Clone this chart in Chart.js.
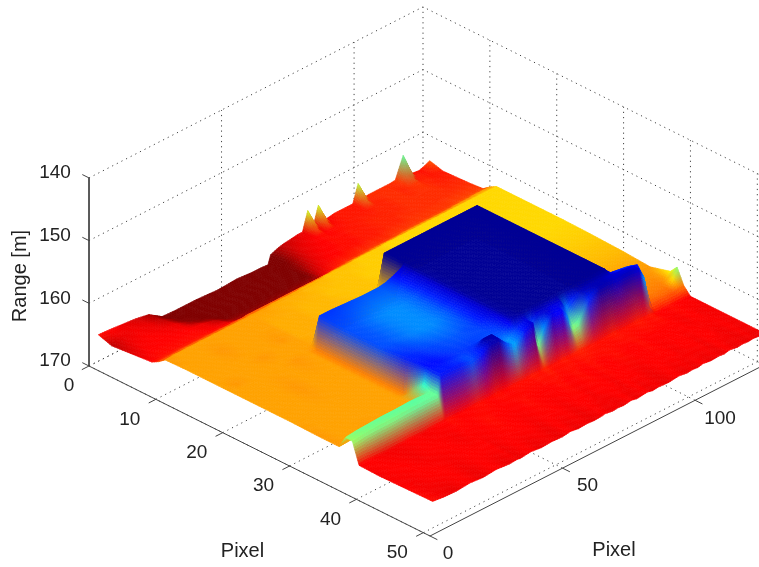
<!DOCTYPE html>
<html>
<head>
<meta charset="utf-8">
<title>Range surface</title>
<script src="https://cdn.jsdelivr.net/npm/chart.js@4/dist/chart.umd.js"></script>
<style>
  html, body { margin: 0; padding: 0; background: #fff; }
  canvas { display: block; filter: blur(0.5px); }
</style>
</head>
<body>
<canvas id="surfaceChart" width="759" height="567"></canvas>
<script>
// grid of the surface, both axes are counted in pixels of the range image
const pixelRows = [1, 3, 5, 7, 9, 10, 11, 14, 17, 18, 20, 21, 25, 30, 34, 37, 38, 39, 40, 43, 47, 51];
const pixelCols = [1, 5, 10, 15, 20, 25, 30, 33,
  34, 38, 42, 46, 50, 53, 56, 59, 62, 65,
  66, 69, 71, 73, 76, 78, 80, 82, 84, 86, 90, 94, 97, 99, 101,
  103, 106, 109, 111,
  113, 116, 118, 120, 122, 124, 126];

// range [m] per row, one value per entry of pixelCols
const range01 = [164.7, 164.8, 165.0, 165.2, 165.6, 167.0, 167.1, 167.1,
  167.1, 167.1, 167.2, 167.3, 167.2, 167.1, 167.2, 167.3, 167.3, 167.4,
  166.0, 165.5, 165.3, 165.2, 165.0, 165.0, 162.0, 165.0, 162.0, 164.9, 164.6, 164.6, 164.6, 161.8, 164.5,
  164.4, 164.4, 164.4, 164.4,
  164.3, 161.0, 164.7, 164.6, 164.7, 164.4, 164.0];
const range03 = [165.4, 165.0, 164.9, 165.0, 165.4, 166.4, 166.7, 166.8,
  166.8, 166.8, 166.9, 166.9, 166.8, 166.8, 166.9, 166.9, 166.8, 166.8,
  166.0, 165.4, 165.1, 165.0, 164.9, 164.8, 164.7, 164.8, 164.7, 164.7, 164.6, 164.6, 164.6, 164.5, 164.5,
  164.5, 164.4, 164.4, 164.5,
  164.4, 164.3, 164.5, 164.5, 164.6, 164.6, 164.6];
const range05 = [165.2, 164.9, 164.8, 164.9, 165.0, 165.8, 166.4, 166.6,
  166.6, 166.6, 166.7, 166.7, 166.6, 166.6, 166.6, 166.6, 166.5, 166.4,
  165.8, 165.2, 165.0, 164.9, 164.8, 164.8, 164.7, 164.7, 164.7, 164.6, 164.6, 164.5, 164.5, 164.5, 164.5,
  164.5, 164.4, 164.4, 164.4,
  164.4, 164.4, 164.4, 164.5, 164.5, 164.5, 164.5];
const range07 = [165.0, 164.8, 164.8, 164.8, 164.8, 165.0, 165.5, 166.0,
  166.2, 166.2, 166.3, 166.3, 166.2, 166.2, 166.3, 166.2, 166.1, 166.0,
  165.4, 165.0, 164.9, 164.8, 164.8, 164.7, 164.7, 164.7, 164.7, 164.6, 164.6, 164.5, 164.5, 164.5, 164.4,
  164.4, 164.4, 164.4, 164.4,
  164.4, 164.4, 164.4, 164.4, 164.4, 164.4, 164.4];
const range09 = [164.8, 164.7, 164.7, 164.7, 164.7, 164.8, 164.9, 165.2,
  165.4, 165.5, 165.6, 165.6, 165.6, 165.6, 165.6, 165.6, 165.6, 165.4,
  165.0, 164.7, 164.6, 164.5, 164.5, 164.5, 164.4, 164.4, 164.4, 164.4, 164.4, 164.3, 164.3, 164.3, 164.3,
  164.3, 164.3, 164.3, 164.3,
  164.3, 164.2, 164.2, 164.2, 164.2, 164.2, 164.2];
const range10 = [164.2, 164.2, 164.1, 164.1, 164.1, 164.1, 164.1, 164.1,
  164.0, 164.0, 164.0, 164.0, 164.0, 164.0, 164.0, 164.0, 164.0, 164.0,
  163.9, 163.9, 163.9, 163.8, 163.8, 163.8, 163.8, 163.7, 163.7, 163.7, 163.7, 163.6, 163.6, 163.6, 163.6,
  163.6, 163.6, 163.6, 163.6,
  163.5, 163.5, 163.5, 163.4, 163.4, 163.4, 163.4];
const range11 = [163.4, 163.3, 163.3, 163.3, 163.3, 163.3, 163.3, 163.3,
  163.3, 163.3, 163.2, 163.2, 163.2, 163.1, 163.1, 163.1, 163.0, 163.0,
  163.0, 163.0, 163.0, 162.9, 162.9, 162.9, 162.9, 162.9, 162.8, 162.8, 162.8, 162.8, 162.8, 162.8, 162.8,
  162.8, 162.8, 162.8, 162.8,
  162.8, 162.8, 162.8, 162.8, 162.8, 162.8, 162.8];
const range14 = [163.3, 163.3, 163.3, 163.4, 163.3, 163.3, 163.3, 163.3,
  163.2, 163.2, 163.2, 163.1, 163.1, 163.1, 163.0, 163.0, 163.0, 163.0,
  163.0, 162.9, 162.9, 162.9, 162.9, 162.9, 162.9, 162.9, 162.8, 162.8, 162.8, 162.8, 162.8, 162.8, 162.8,
  162.8, 162.8, 162.8, 162.8,
  162.8, 162.8, 162.8, 162.8, 162.8, 162.8, 162.8];
const range17 = [163.3, 163.3, 163.3, 163.3, 163.3, 163.3, 163.4, 163.3,
  163.2, 163.2, 163.2, 163.1, 163.1, 163.1, 163.1, 163.0, 163.0, 163.0,
  163.0, 163.0, 162.9, 162.9, 162.9, 162.9, 162.9, 162.9, 162.9, 162.8, 162.8, 162.8, 162.8, 162.8, 162.8,
  162.8, 162.8, 162.8, 162.8,
  162.8, 162.8, 162.8, 162.8, 162.8, 162.8, 162.8];
const range18 = [163.3, 163.3, 163.3, 163.3, 163.4, 163.3, 163.3, 163.3,
  163.2, 163.2, 163.2, 163.1, 163.1, 163.1, 163.1, 163.0, 163.0, 163.0,
  156.7, 156.7, 156.7, 156.7, 156.7, 156.7, 156.7, 156.7, 156.7, 156.7, 156.7, 156.7, 156.7, 156.7, 156.7,
  162.8, 162.8, 162.8, 162.8,
  162.8, 162.8, 162.8, 162.8, 162.8, 162.8, 162.8];
const range20 = [163.3, 163.4, 163.3, 163.3, 163.3, 163.3, 163.3, 163.3,
  163.3, 163.2, 163.2, 163.2, 163.1, 163.1, 163.1, 163.1, 163.0, 163.0,
  156.7, 156.7, 156.7, 156.7, 156.7, 156.7, 156.7, 156.7, 156.7, 156.7, 156.7, 156.7, 156.7, 156.7, 156.7,
  162.8, 162.8, 162.8, 162.8,
  162.8, 162.8, 162.8, 162.8, 162.8, 162.8, 162.8];
const range21 = [163.3, 163.3, 163.3, 163.3, 163.3, 163.4, 163.3, 163.6,
  158.2, 158.2, 158.3, 158.4, 158.5, 158.5, 158.5, 158.3, 157.8, 157.2,
  156.7, 156.7, 156.7, 156.7, 156.7, 156.7, 156.7, 156.7, 156.7, 156.7, 156.7, 156.7, 156.7, 156.7, 156.7,
  162.8, 162.8, 162.8, 162.8,
  162.8, 162.8, 162.8, 162.8, 162.8, 162.8, 162.8];
const range25 = [163.3, 163.3, 163.3, 163.4, 163.3, 163.3, 163.3, 163.6,
  158.4, 158.5, 158.7, 158.9, 159.0, 159.0, 158.9, 158.6, 158.0, 157.3,
  156.8, 156.7, 156.7, 156.7, 156.7, 156.7, 156.7, 156.7, 156.7, 156.7, 156.7, 156.7, 156.7, 156.7, 156.7,
  162.9, 162.9, 162.9, 162.9,
  162.9, 162.9, 162.9, 162.9, 162.9, 162.9, 162.9];
const range30 = [163.3, 163.3, 163.3, 163.3, 163.3, 163.3, 163.3, 163.6,
  158.4, 158.5, 158.7, 158.9, 159.0, 159.0, 158.9, 158.6, 158.0, 157.3,
  156.8, 156.7, 156.7, 156.7, 156.7, 156.7, 156.7, 156.7, 156.7, 156.7, 156.7, 156.7, 156.7, 156.7, 156.7,
  163.1, 163.1, 163.1, 163.1,
  163.1, 163.1, 163.1, 163.1, 163.1, 163.1, 163.1];
const range34 = [163.4, 163.3, 163.3, 163.3, 163.3, 163.3, 163.3, 163.6,
  158.0, 158.1, 158.3, 158.4, 158.5, 158.5, 158.4, 158.3, 157.9, 157.3,
  156.8, 156.7, 156.7, 156.7, 156.7, 156.7, 156.7, 156.7, 156.7, 156.7, 156.7, 156.7, 156.7, 156.7, 156.7,
  163.4, 163.4, 163.4, 163.4,
  163.4, 163.4, 163.4, 163.4, 163.4, 163.4, 163.4];
const range37 = [163.4, 163.3, 163.3, 163.4, 163.3, 163.3, 163.3, 160.5,
  157.8, 157.8, 158.0, 158.2, 158.2, 158.2, 158.3, 158.4, 158.4, 157.6,
  156.9, 156.7, 156.7, 156.7, 156.7, 156.7, 156.7, 156.7, 156.7, 156.7, 156.7, 156.7, 156.7, 156.7, 156.7,
  157.8, 158.0, 158.2, 158.4,
  163.6, 163.6, 163.6, 163.6, 163.6, 163.4, 162.5];
const range38 = [161.4, 161.2, 161.1, 161.0, 161.0, 160.9, 161.0, 161.0,
  157.9, 157.9, 158.1, 158.4, 158.0, 156.9, 156.9, 158.6, 159.1, 158.4,
  158.0, 157.4, 158.2, 157.3, 157.2, 157.4, 157.4, 157.3, 158.8, 158.0, 157.0, 157.0, 157.0, 157.1, 157.2,
  157.3, 157.3, 157.5, 157.7,
  163.8, 163.7, 163.7, 163.7, 163.7, 162.7, 161.3];
const range39 = [161.5, 161.3, 161.2, 161.2, 161.1, 161.0, 161.0, 161.0,
  157.9, 157.9, 158.0, 158.4, 157.8, 157.0, 157.0, 158.4, 159.3, 158.2,
  157.8, 157.3, 161.2, 159.0, 157.5, 157.7, 157.7, 159.0, 161.3, 161.0, 158.0, 157.0, 157.0, 157.1, 157.2,
  157.1, 157.1, 157.3, 159.2,
  164.1, 164.1, 164.0, 164.0, 164.0, 163.8, 163.7];
const range40 = [164.8, 164.8, 164.9, 164.9, 164.8, 164.9, 164.8, 164.8,
  164.7, 164.8, 164.8, 164.7, 164.8, 164.7, 164.8, 164.7, 164.7, 164.7,
  164.6, 164.7, 164.5, 164.7, 164.7, 164.6, 164.7, 164.6, 164.5, 164.6, 164.7, 164.7, 164.6, 164.7, 164.7,
  164.7, 164.6, 164.7, 164.6,
  164.8, 164.8, 164.7, 164.8, 164.8, 164.8, 164.9];
const range43 = [164.9, 164.8, 164.8, 164.9, 164.8, 164.8, 164.9, 164.8,
  164.8, 164.8, 164.7, 164.8, 164.8, 164.8, 164.7, 164.8, 164.8, 164.8,
  164.8, 164.7, 164.8, 164.8, 164.7, 164.8, 164.8, 164.7, 164.8, 164.8, 164.7, 164.8, 164.8, 164.7, 164.8,
  164.8, 164.8, 164.8, 164.8,
  164.8, 164.9, 164.8, 164.8, 164.9, 164.9, 164.9];
const range47 = [164.8, 164.9, 164.8, 164.8, 164.9, 164.8, 164.8, 164.8,
  164.9, 164.8, 164.8, 164.8, 164.9, 164.8, 164.8, 164.8, 164.9, 164.8,
  164.8, 164.8, 164.9, 164.8, 164.8, 164.8, 164.9, 164.8, 164.8, 164.8, 164.9, 164.8, 164.8, 164.8, 164.8,
  164.9, 164.8, 164.8, 164.9,
  164.8, 164.8, 164.9, 164.9, 164.8, 164.9, 164.9];
const range51 = [164.7, 164.9, 165.0, 164.8, 165.0, 164.8, 165.0, 164.9,
  165.0, 164.8, 165.0, 164.9, 165.0, 164.8, 165.0, 164.9, 165.0, 164.9,
  164.8, 165.0, 164.9, 165.0, 164.8, 165.0, 164.9, 164.8, 165.0, 164.9, 165.0, 164.8, 165.0, 164.9, 165.0,
  164.8, 165.0, 164.9, 165.0,
  164.8, 165.0, 164.9, 165.0, 164.9, 165.0, 164.9];
const rangeRows = [range01, range03, range05, range07, range09, range10, range11, range14, range17, range18, range20,
  range21, range25, range30, range34, range37, range38, range39, range40, range43, range47, range51];

// axes
const rowTicks = [0, 10, 20, 30, 40, 50];
const colTicks = [0, 50, 100];
const rangeTicks = [140, 150, 160, 170];
const rowLimit = 51;
const colLimit = 126;
const colourMin = 156.5;
const colourMax = 166;

// matlab view, turns (row, col, range) into canvas coordinates
function project(row, col, range) {
  return {
    x: 89 + row / rowLimit * 341 + col / colLimit * 334,
    y: 366 + row / rowLimit * 170 - col / colLimit * 171 - (170 - range) * 6.27
  };
}

function jet(range) {
  const t = Math.min(1, Math.max(0, (range - colourMin) / (colourMax - colourMin)));
  const ramp = v => 255 * Math.min(1, Math.max(0, 1.5 - Math.abs(4 * t - v)));
  return [ramp(3), ramp(2), ramp(1)];
}

function lineSet(points, color, dash) {
  return {
    type: 'scatter', data: points, showLine: true, pointRadius: 0,
    borderColor: color, borderWidth: 1, borderDash: dash, fill: false
  };
}

const dots = [1.2, 4];
const dotColor = '#444';
const axisColor = '#444';

const surfacePoints = [];
pixelRows.forEach((row, r) => {
  pixelCols.forEach((col, c) => surfacePoints.push(project(row, col, rangeRows[r][c])));
});

// first dataset is painted last, so the surface covers the floor grid
const datasets = [{ label: 'Range', data: surfacePoints, pointRadius: 0, showLine: false }];

rangeTicks.forEach(z => {
  datasets.push(lineSet([project(0, 0, z), project(0, colLimit, z), project(rowLimit, colLimit, z)], dotColor, dots));
  datasets.push(lineSet([project(0, 0, z), project(-1, 0, z)], axisColor, []));
});
colTicks.forEach(col => {
  if (col > 0) datasets.push(lineSet([project(0, col, 170), project(0, col, 140)], dotColor, dots));
  datasets.push(lineSet([project(0, col, 170), project(rowLimit, col, 170)], dotColor, dots));
  datasets.push(lineSet([project(rowLimit, col, 170), project(rowLimit + 1.1, col, 170)], axisColor, []));
});
rowTicks.forEach(row => {
  if (row > 0) datasets.push(lineSet([project(row, colLimit, 170), project(row, colLimit, 140)], dotColor, dots));
  datasets.push(lineSet([project(row, 0, 170), project(row, colLimit, 170)], dotColor, dots));
  datasets.push(lineSet([project(row, 0, 170), project(row, -2.7, 170)], axisColor, []));
});
datasets.push(lineSet([project(0, colLimit, 170), project(0, colLimit, 140)], dotColor, dots));
datasets.push(lineSet([project(0, 0, 140), project(0, 0, 170)], axisColor, []));
datasets.push(lineSet([project(0, 0, 170), project(rowLimit, 0, 170)], axisColor, []));
datasets.push(lineSet([project(rowLimit, 0, 170), project(rowLimit, colLimit, 170)], axisColor, []));

// bilinear vertex colours, same as shading interp
const surfacePlugin = {
  id: 'surface',
  afterDatasetDraw(chart, args) {
    if (args.index !== 0) return;
    const pts = args.meta.data;
    const ctx = chart.ctx;
    const nc = pixelCols.length;
    const colours = rangeRows.map(row => row.map(jet));
    ctx.save();
    ctx.lineWidth = 0.7;
    for (let r = 0; r < pixelRows.length - 1; r++) {
      for (let c = nc - 2; c >= 0; c--) {
        const a = pts[r * nc + c], b = pts[r * nc + c + 1];
        const d = pts[(r + 1) * nc + c], e = pts[(r + 1) * nc + c + 1];
        const ca = colours[r][c], cb = colours[r][c + 1], cd = colours[r + 1][c], ce = colours[r + 1][c + 1];
        const nu = Math.min(40, Math.ceil(Math.max(Math.hypot(b.x - a.x, b.y - a.y), Math.hypot(e.x - d.x, e.y - d.y)) / 3));
        const nv = Math.min(50, Math.ceil(Math.max(Math.hypot(d.x - a.x, d.y - a.y), Math.hypot(e.x - b.x, e.y - b.y)) / 3));
        const at = (u, v) => ({
          x: (a.x * (1 - u) + b.x * u) * (1 - v) + (d.x * (1 - u) + e.x * u) * v,
          y: (a.y * (1 - u) + b.y * u) * (1 - v) + (d.y * (1 - u) + e.y * u) * v
        });
        for (let i = nv - 1; i >= 0; i--) {
          for (let j = nu - 1; j >= 0; j--) {
            const u = (j + 0.5) / nu, v = (i + 0.5) / nv;
            const mix = [0, 1, 2].map(k =>
              Math.round((ca[k] * (1 - u) + cb[k] * u) * (1 - v) + (cd[k] * (1 - u) + ce[k] * u) * v));
            const p1 = at(j / nu, i / nv), p2 = at((j + 1) / nu, i / nv);
            const p3 = at((j + 1) / nu, (i + 1) / nv), p4 = at(j / nu, (i + 1) / nv);
            const col = 'rgb(' + mix.join(',') + ')';
            ctx.fillStyle = col;
            ctx.strokeStyle = col;
            ctx.beginPath();
            ctx.moveTo(p1.x, p1.y);
            ctx.lineTo(p2.x, p2.y);
            ctx.lineTo(p3.x, p3.y);
            ctx.lineTo(p4.x, p4.y);
            ctx.closePath();
            ctx.fill();
            ctx.stroke();
          }
        }
      }
    }
    ctx.restore();
  }
};

// tick labels and axis titles, placed from the tick position on the scales
const labelPlugin = {
  id: 'labels',
  afterDraw(chart) {
    const ctx = chart.ctx;
    const xs = chart.scales.x, ys = chart.scales.y;
    const put = (text, pos, dx, dy) => ctx.fillText(text, xs.getPixelForValue(pos.x) + dx, ys.getPixelForValue(pos.y) + dy);
    ctx.save();
    ctx.fillStyle = '#222';
    ctx.textAlign = 'center';
    ctx.textBaseline = 'middle';
    ctx.font = '19px "Liberation Sans"';
    rangeTicks.forEach(z => put(String(z), project(0, 0, z), -34, -5));
    rowTicks.forEach(row => put(String(row), project(row, 0, 170), row === 0 ? -20 : -26, 20));
    colTicks.forEach(col => put(String(col), project(rowLimit, col, 170), col === 0 ? 18 : 25, 18));
    ctx.font = '20px "Liberation Sans"';
    put('Pixel', project(rowLimit / 2, 0, 170), -17, 100);
    put('Pixel', project(rowLimit, colLimit / 2, 170), 17, 100);
    ctx.translate(20, 276);
    ctx.rotate(-Math.PI / 2);
    ctx.fillText('Range [m]', 0, 0);
    ctx.restore();
  }
};

new Chart(document.getElementById('surfaceChart'), {
  type: 'scatter',
  data: { datasets: datasets },
  plugins: [surfacePlugin, labelPlugin],
  options: {
    responsive: false,
    animation: false,
    layout: { padding: 0 },
    plugins: { legend: { display: false }, tooltip: { enabled: false } },
    scales: {
      x: { type: 'linear', min: 0, max: 759, display: false },
      y: { type: 'linear', min: 0, max: 567, reverse: true, display: false }
    }
  }
});
</script>
</body>
</html>
